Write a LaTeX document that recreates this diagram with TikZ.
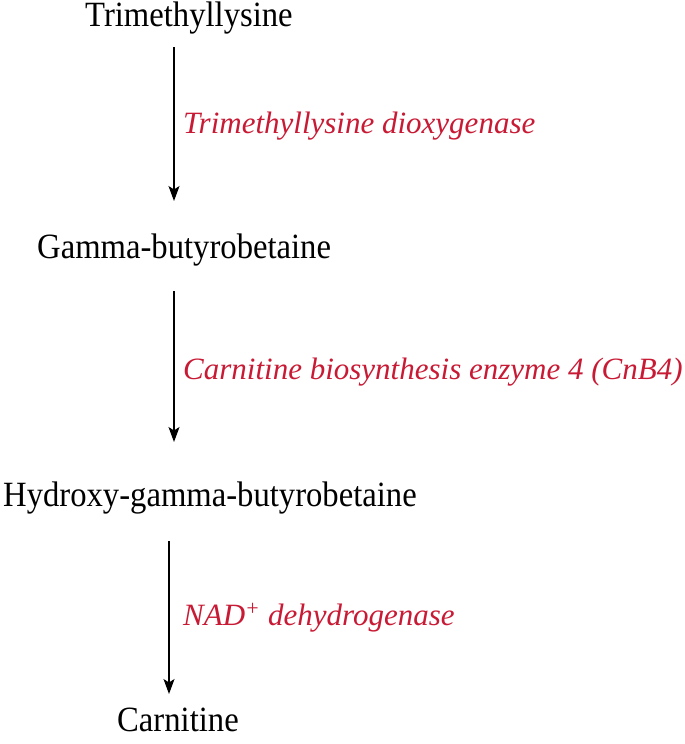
\documentclass[tikz,border=0pt]{standalone}
\usepackage{fontspec}
\setmainfont{Liberation Serif}
\newfontfamily\narrowserif[FakeStretch=0.92]{Liberation Serif}
\usepackage{tikz}
\usetikzlibrary{positioning,arrows.meta}
\definecolor{enzred}{RGB}{200,26,52}
\tikzset{
	x=1pt, y=1pt,
	compound/.style={anchor=base west, inner sep=0pt, font=\narrowserif\fontsize{35.5}{38}\selectfont},
	enzyme/.style={anchor=base west, inner sep=0pt, text=enzred, font=\fontsize{31}{34}\selectfont\itshape},
	rxn/.style={-{Stealth[length=15pt,width=11pt,inset=3.5pt]}, line width=1.3pt},
}

\begin{document}
\begin{tikzpicture}
		\useasboundingbox (0,0) rectangle (685,-744);
		% compounds
		\node[compound] (tml)  at (85,-27)  {Trimethyllysine};
		\node[compound] (gbb)  at (37,-258) {Gamma-butyrobetaine};
		\node[compound] (hgbb) at (3,-506)  {Hydroxy-gamma-butyrobetaine};
		\node[compound] (carn) at (117,-731) {Carnitine};
		% arrow ends
		\coordinate (s1) at (174,-47);
		\coordinate (e1) at (174,-201);
		\coordinate (s2) at (174,-291);
		\coordinate (e2) at (174,-442);
		\coordinate (s3) at (169,-541);
		\coordinate (e3) at (169,-694);
		\draw[rxn] (s1) -- (e1);
		\draw[rxn] (s2) -- (e2);
		\draw[rxn] (s3) -- (e3);
		% enzymes
		\node[enzyme] (tmlhd) at (183,-133) {Trimethyllysine dioxygenase};
		\node[enzyme] (cnb4)  at (183,-379) {Carnitine biosynthesis enzyme 4 (CnB4)};
		\node[enzyme] (nadh)  at (183,-625) {NAD\textsuperscript{+} dehydrogenase};
	\end{tikzpicture}
\end{document}
